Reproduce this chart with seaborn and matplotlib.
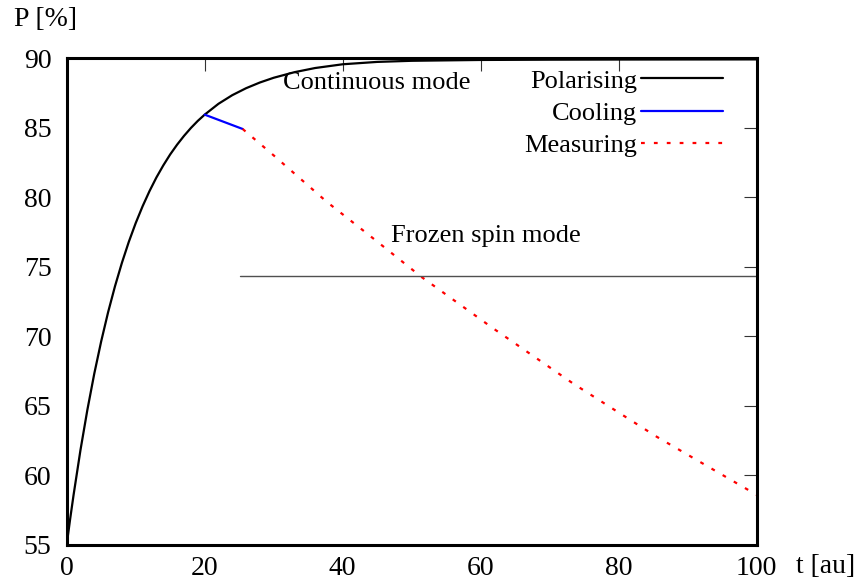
import numpy as np
import pandas as pd
import matplotlib
matplotlib.use("Agg")
import matplotlib.pyplot as plt
import seaborn as sns

# ---- data ----
polar_t = [0, 0.5, 1, 2, 3, 4, 5, 6, 7, 8, 9, 10, 11, 12, 13, 14, 15, 16, 17, 18,
           19, 20, 22, 24, 26, 28, 30, 33, 36, 40, 45, 50, 60, 70, 80, 100]
polar_p = [55.0, 56.85, 58.59, 61.82, 64.71, 67.31, 69.63, 71.72, 73.59, 75.27,
           76.78, 78.13, 79.34, 80.43, 81.41, 82.28, 83.07, 83.77, 84.40, 84.97,
           85.48, 85.93, 86.71, 87.33, 87.83, 88.24, 88.58, 88.98, 89.28, 89.55,
           89.72, 89.80, 89.86, 89.88, 89.89, 89.90]

cool_t = [20, 25.5]
cool_p = [85.93, 84.9]

meas_t = [25.5, 30, 37.7, 44, 51.4, 61.8, 73.4, 85.5, 100]
meas_p = [84.9, 83.0, 79.66, 77.2, 74.27, 70.57, 66.6, 62.78, 58.6]

ref_t = [25.1, 100]
ref_p = [74.3, 74.3]

x_ticks = [0, 20, 40, 60, 80, 100]
y_ticks = [55, 60, 65, 70, 75, 80, 85, 90]

sns.set_style("white")
plt.rcParams["font.family"] = ["Liberation Serif", "DejaVu Serif"]
plt.rcParams["font.size"] = 19
plt.rcParams["text.color"] = "black"
plt.rcParams["axes.labelcolor"] = "black"
plt.rcParams["xtick.labelcolor"] = "black"
plt.rcParams["ytick.labelcolor"] = "black"

fig, ax = plt.subplots(figsize=(8.59, 5.83), dpi=100)
fig.subplots_adjust(left=0.0776, right=0.881, bottom=0.0652, top=0.9005)

sns.lineplot(x=polar_t, y=polar_p, color="black", lw=1.6, ax=ax, label="Polarising")
sns.lineplot(x=cool_t, y=cool_p, color="#0000ff", lw=1.6, ax=ax, label="Cooling")
sns.lineplot(x=meas_t, y=meas_p, color="#ff0000", lw=1.6, ax=ax, label="Measuring",
             linestyle=(0, (1.7, 4.1)))
sns.lineplot(x=ref_t, y=ref_p, color="#505050", lw=1.0, ax=ax)

ax.set_xlim(0, 100)
ax.set_ylim(55, 90)
ax.set_xticks(x_ticks)
ax.set_yticks(y_ticks)
ax.set_xticklabels([str(v) for v in x_ticks])
ax.set_yticklabels([str(v) for v in y_ticks])

for s in ax.spines.values():
    s.set_visible(True)
    s.set_linewidth(2.2)
    s.set_color("black")

ax.tick_params(axis="both", which="major", direction="in", length=9.5, width=0.8,
               color="#333333", labelcolor="black", top=True, right=True,
               labelsize=20)
ax.tick_params(axis="y", pad=11)
ax.tick_params(axis="x", pad=8)

ax.set_ylabel("P [%]", rotation=0, fontsize=20, ha="center", va="center",
              color="black")
ax.yaxis.set_label_coords(-0.03, 1.08)
ax.set_xlabel("t [au]", fontsize=20, ha="center", va="center", color="black")
ax.xaxis.set_label_coords(1.099, -0.045)

ax.text(31.35, 87.76, "Continuous mode", fontsize=19, va="baseline", ha="left",
        color="black")
ax.text(46.96, 76.79, "Frozen spin mode", fontsize=19, va="baseline", ha="left",
        color="black")

leg = ax.legend(loc="upper right", bbox_to_anchor=(0.951, 0.977), frameon=False,
                markerfirst=False, handlelength=3.1, handletextpad=0.15,
                labelspacing=0.33, borderpad=0, borderaxespad=0, fontsize=19)
for t in leg.get_texts():
    t.set_color("black")

fig.savefig("out.png", dpi=100)
